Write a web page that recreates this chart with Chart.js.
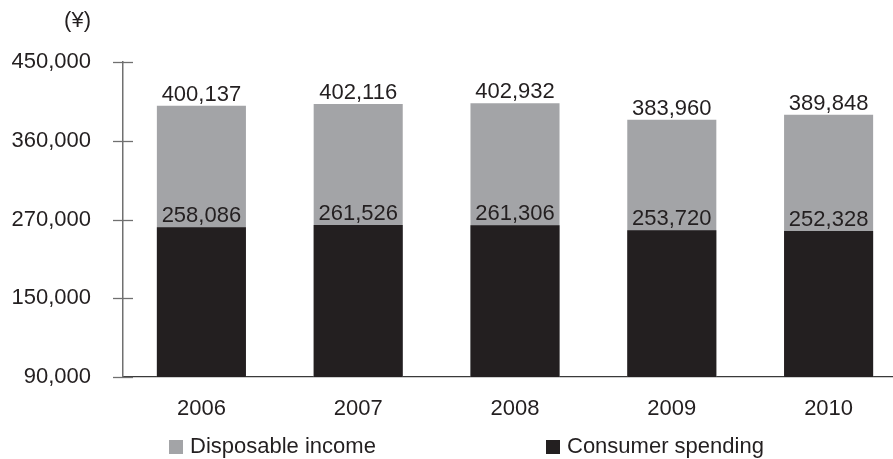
<!DOCTYPE html>
<html>
<head>
<meta charset="utf-8">
<script src="https://cdn.jsdelivr.net/npm/chart.js@4"></script>
<style>
  html, body { margin: 0; padding: 0; overflow: hidden; background: #fff; }
  #wrap { width: 920px; height: 459px; }
</style>
</head>
<body>
<div id="wrap"><canvas id="c" width="920" height="459"></canvas></div>
<script>
// Household figures per year (yen)
const years = ['2006', '2007', '2008', '2009', '2010'];
const disposableIncome = [400137, 402116, 402932, 383960, 389848];
const consumerSpending = [258086, 261526, 261306, 253720, 252328];
// Value axis stops: equally spaced on screen, linear between neighbours
const axisStops = [90000, 150000, 270000, 360000, 450000];
const unitLabel = '(¥)';
const seriesNames = ['Disposable income', 'Consumer spending'];

const INK = '#231f20';
const GREY = '#a3a4a7';
const FONT = '"Liberation Sans", Arial, Helvetica, sans-serif';

// A value scale made of equal-height segments between the axis stops
class SegmentedScale extends Chart.LinearScale {
  buildTicks() {
    return axisStops.map(v => ({ value: v }));
  }
  _segmentDecimal(value) {
    const n = axisStops.length - 1;
    let i = 0;
    while (i < n - 1 && value > axisStops[i + 1]) i++;
    return (i + (value - axisStops[i]) / (axisStops[i + 1] - axisStops[i])) / n;
  }
  getPixelForValue(value) {
    return this.getPixelForDecimal(this._segmentDecimal(value));
  }
  getValueForPixel(pixel) {
    const n = axisStops.length - 1;
    const d = this.getDecimalForPixel(pixel) * n;
    const i = Math.min(Math.max(Math.floor(d), 0), n - 1);
    return axisStops[i] + (d - i) * (axisStops[i + 1] - axisStops[i]);
  }
}
SegmentedScale.id = 'segmented';
SegmentedScale.defaults = Chart.LinearScale.defaults;
Chart.register(SegmentedScale);

const fmt = v => Number(v).toLocaleString('en-US');

const decorations = {
  id: 'decorations',
  afterDatasetsDraw(chart) {
    const { ctx } = chart;
    ctx.save();
    ctx.font = '22px ' + FONT;
    ctx.fillStyle = INK;
    ctx.textAlign = 'center';
    ctx.textBaseline = 'alphabetic';
    chart.data.datasets.forEach((ds, di) => {
      const meta = chart.getDatasetMeta(di);
      meta.data.forEach((bar, i) => {
        ctx.fillText(fmt(ds.data[i]), bar.x, bar.y - 5);
      });
    });
    ctx.restore();
  },
  afterDraw(chart) {
    const { ctx, chartArea, scales: { y } } = chart;
    ctx.save();
    // tick marks crossing the value axis
    ctx.strokeStyle = '#707070';
    ctx.lineWidth = 1.3;
    y.ticks.forEach((t, i) => {
      const py = Math.round(y.getPixelForTick(i)) + 0.5;
      ctx.beginPath();
      ctx.moveTo(chartArea.left - 10, py);
      ctx.lineTo(chartArea.left + 10, py);
      ctx.stroke();
    });
    // unit label
    ctx.font = '22px ' + FONT;
    ctx.fillStyle = INK;
    ctx.textAlign = 'right';
    ctx.textBaseline = 'middle';
    ctx.fillText(unitLabel, chartArea.left - 32, 21);
    // legend
    const items = [
      { text: seriesNames[0], color: GREY, x: chartArea.left + 46 },
      { text: seriesNames[1], color: INK, x: chartArea.left + 423 }
    ];
    ctx.textAlign = 'left';
    items.forEach(it => {
      ctx.fillStyle = it.color;
      ctx.fillRect(it.x, 440, 14, 14);
      ctx.fillStyle = INK;
      ctx.fillText(it.text, it.x + 21, 447);
    });
    ctx.restore();
  }
};

new Chart(document.getElementById('c'), {
  type: 'bar',
  data: {
    labels: years,
    datasets: [
      {
        label: seriesNames[0],
        data: disposableIncome,
        backgroundColor: GREY,
        order: 1
      },
      {
        label: seriesNames[1],
        data: consumerSpending,
        backgroundColor: INK,
        order: 0
      }
    ]
  },
  options: {
    responsive: false,
    animation: false,
    datasets: {
      bar: {
        grouped: false,
        base: 90000,
        barPercentage: 0.568,
        categoryPercentage: 1,
        borderWidth: 0
      }
    },
    layout: { padding: { top: 62, right: 13, left: 0, bottom: 0 } },
    plugins: {
      legend: { display: false },
      tooltip: { enabled: false }
    },
    scales: {
      x: {
        grid: { display: false, drawTicks: false },
        border: { display: true, color: '#3a3a3a', width: 1.2 },
        ticks: { padding: 19, color: INK, font: { family: FONT, size: 22 } },
        afterFit: s => { s.height = 82; }
      },
      y: {
        type: 'segmented',
        min: 90000,
        max: 450000,
        grid: { display: false, drawTicks: false },
        border: { display: true, color: '#707070', width: 1.5 },
        ticks: {
          padding: 32,
          color: INK,
          font: { family: FONT, size: 22 },
          callback: v => fmt(v)
        },
        afterFit: s => { s.width = 123; }
      }
    }
  },
  plugins: [decorations]
});
</script>
</body>
</html>
